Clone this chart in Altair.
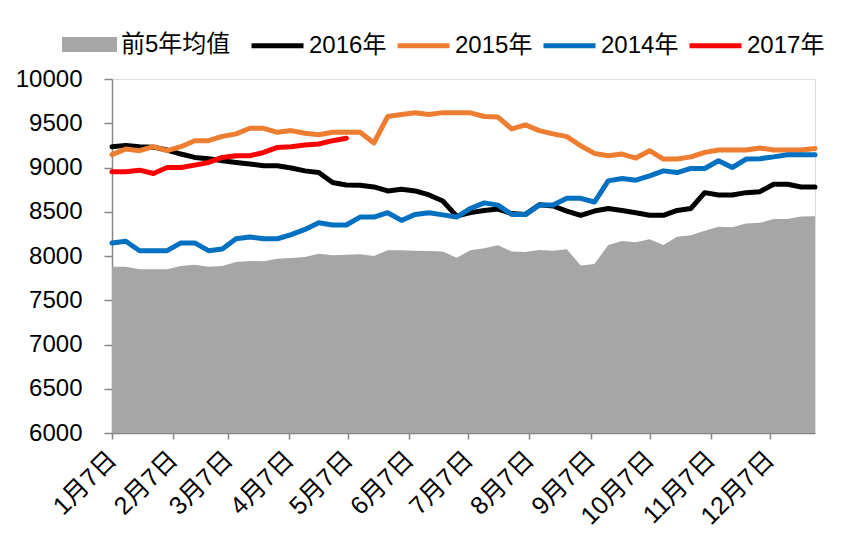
import altair as alt
import pandas as pd

# weekly dates (non-leap dummy year), Jan 7 .. Dec 30
dates = pd.date_range("2017-01-07", periods=52, freq="7D")

avg5 = [7879, 7879, 7849, 7849, 7849, 7886, 7901, 7879, 7886, 7932,
        7943, 7940, 7970, 7977, 7989, 8026, 8008, 8015, 8020, 8000,
        8064, 8064, 8060, 8057, 8050, 7981, 8064, 8087, 8122, 8050,
        8046, 8068, 8060, 8076, 7894, 7909, 8125, 8170, 8155, 8190,
        8125, 8217, 8235, 8284, 8330, 8325, 8367, 8375, 8417, 8417,
        8447, 8450]

y2016 = [9235, 9250, 9235, 9230, 9197, 9152, 9114, 9100, 9076, 9057,
         9040, 9020, 9020, 8995, 8962, 8943, 8830, 8803, 8800, 8780,
         8735, 8754, 8735, 8690, 8622, 8450, 8490, 8515, 8530, 8480,
         8470, 8580, 8565, 8508, 8460, 8508, 8537, 8515, 8489, 8460,
         8460, 8515, 8537, 8716, 8690, 8690, 8716, 8727, 8811, 8811,
         8780, 8780]

y2015 = [9145, 9209, 9190, 9235, 9190, 9235, 9303, 9303, 9352, 9380,
         9443, 9443, 9398, 9417, 9387, 9370, 9398, 9398, 9398, 9277,
         9576, 9599, 9618, 9599, 9620, 9620, 9618, 9576, 9570, 9436,
         9481, 9417, 9380, 9349, 9246, 9159, 9133, 9152, 9107, 9190,
         9095, 9095, 9120, 9171, 9197, 9197, 9197, 9220, 9197, 9197,
         9197, 9215]

y2014 = [8148, 8167, 8060, 8060, 8060, 8148, 8148, 8060, 8080, 8196,
         8215, 8195, 8195, 8242, 8300, 8375, 8350, 8350, 8440, 8440,
         8489, 8402, 8470, 8489, 8465, 8440, 8537, 8600, 8575, 8470,
         8470, 8575, 8575, 8652, 8652, 8610, 8849, 8875, 8856, 8906,
         8962, 8943, 8989, 8989, 9076, 9000, 9095, 9100, 9120, 9144,
         9144, 9144]

y2017 = [8951, 8951, 8970, 8932, 9000, 9000, 9027, 9057, 9114, 9133,
         9133, 9170, 9227, 9235, 9255, 9265, 9303, 9330]

line_names = ["2016年", "2015年", "2014年", "2017年"]
line_colors = ["#000000", "#ED7D31", "#0070C0", "#FF0000"]
line_widths = [5, 5, 5, 7]
area_name = "前5年均值"
y_ticks = list(range(6000, 10001, 500))
x_ticks = [pd.Timestamp(2017, m, 7).isoformat() for m in range(1, 13)]

rows = []
for d, v in zip(dates, avg5):
    rows.append({"date": d, "value": v, "series": area_name})
for name, vals in zip(line_names, [y2016, y2015, y2014, y2017]):
    for d, v in zip(dates, vals):
        rows.append({"date": d, "value": v, "series": name})
df = pd.DataFrame(rows)

FONT = "Liberation Sans, Noto Sans CJK SC, sans-serif"
AXIS_COLOR = "#868686"

x_enc = alt.X(
    "date:T",
    scale=alt.Scale(domain=[dates[0].isoformat(), dates[-1].isoformat()], nice=False),
    axis=alt.Axis(
        values=x_ticks, format="%-m月%-d日", labelAngle=315, labelAlign="right",
        labelBaseline="middle", labelPadding=16, tickSize=6, title=None, grid=False,
        labelOverlap=False, labelFontSize=25, labelColor="#000000", labelFont=FONT,
        domainColor=AXIS_COLOR, tickColor=AXIS_COLOR, domainWidth=1.5, tickWidth=1.5,
    ),
)
y_enc = alt.Y(
    "value:Q",
    scale=alt.Scale(domain=[6000, 10000], nice=False, zero=False),
    axis=alt.Axis(
        values=y_ticks, format="d", title=None, grid=False, tickSize=8,
        labelPadding=22, labelFontSize=24, labelColor="#000000", labelFont=FONT,
        domainColor=AXIS_COLOR, tickColor=AXIS_COLOR, domainWidth=1.5, tickWidth=1.5,
    ),
)

area = alt.Chart(df).transform_filter(alt.datum.series == area_name).mark_area(
    opacity=1, interpolate="linear"
).encode(
    x=x_enc,
    y=y_enc,
    y2=alt.datum(6000),
    fill=alt.Fill(
        "series:N",
        scale=alt.Scale(domain=[area_name], range=["#A6A6A6"]),
        legend=alt.Legend(
            orient="none", legendX=-50, legendY=-62, direction="horizontal",
            title=None, symbolType="M-1,-0.27L1,-0.27L1,0.27L-1,0.27Z",
            symbolSize=3025, symbolStrokeWidth=0, symbolOpacity=1,
            labelFontSize=24, labelFont=FONT, labelColor="#000000", labelOffset=4,
        ),
    ),
)

stroke_legend = alt.Legend(
    orient="none", legendX=137, legendY=-62, direction="horizontal",
    title=None, symbolType="stroke", symbolSize=2704, symbolStrokeWidth=5,
    labelFontSize=24, labelFont=FONT, labelColor="#000000", labelOffset=3,
    columnPadding=0,
)

layers = [area]
for name in line_names:
    layers.append(
        alt.Chart(df).transform_filter(alt.datum.series == name).mark_line(
            strokeCap="round", strokeJoin="round"
        ).encode(
            x=x_enc,
            y=y_enc,
            stroke=alt.Stroke(
                "series:N",
                scale=alt.Scale(domain=line_names, range=line_colors),
                legend=stroke_legend,
            ),
            strokeWidth=alt.StrokeWidth(
                "series:N",
                scale=alt.Scale(domain=line_names, range=line_widths),
                legend=None,
            ),
        )
    )

chart = alt.layer(*layers).properties(
    width=703,
    height=354,
    autosize=alt.AutoSizeParams(type="none"),
    padding={"left": 104, "top": 71, "right": 19, "bottom": 100},
).configure_view(stroke=None).configure(background="#FFFFFF")

chart.save("out.html", embed_options={"renderer": "svg", "actions": False})
